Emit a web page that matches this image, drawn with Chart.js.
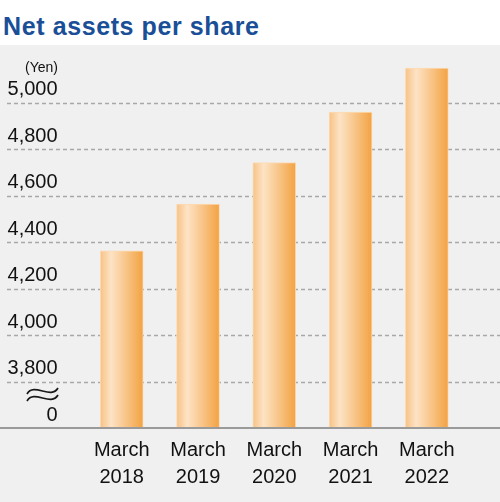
<!DOCTYPE html>
<html>
<head>
<meta charset="utf-8">
<script src="https://cdn.jsdelivr.net/npm/chart.js@4"></script>
<style>
  html, body { margin: 0; padding: 0; background: #fff; }
  #wrap { position: relative; width: 500px; height: 502px; overflow: hidden; }
  #title {
    position: absolute; left: 3px; top: 12px; line-height: 28px;
    font: bold 25px "Liberation Sans", Arial, sans-serif; letter-spacing: 0.6px;
    color: #1a4f97; white-space: nowrap;
  }
  #box { position: absolute; left: 0; top: 45px; width: 500px; height: 457px; background: #f0f0f0; }
</style>
</head>
<body>
<div id="wrap">
  <div id="title">Net assets per share</div>
  <div id="box"><canvas id="chart" width="500" height="457"></canvas></div>
</div>
<script>
// data
const periods = [["March", "2018"], ["March", "2019"], ["March", "2020"], ["March", "2021"], ["March", "2022"]];
const netAssets = [4362, 4563, 4742, 4959, 5148];
const yTicks = [3600, 3800, 4000, 4200, 4400, 4600, 4800, 5000];
const baseValue = 3600; // shown as 0 below the axis break
const unitLabel = "(Yen)";

const fontFamily = '"Liberation Sans", Arial, sans-serif';

// dashed grid, solid baseline, unit label and the break mark
const decorations = {
    id: 'decorations',
    beforeDatasetsDraw(chart) {
        const ctx = chart.ctx;
        const y = chart.scales.y;
        ctx.save();
        ctx.strokeStyle = '#a8a8a8';
        ctx.lineWidth = 1.5;
        ctx.setLineDash([4, 3]);
        yTicks.forEach(v => {
            if (v == baseValue) return;
            const py = Math.round(y.getPixelForValue(v)) + 0.5;
            ctx.beginPath();
            ctx.moveTo(7, py);
            ctx.lineTo(chart.width, py);
            ctx.stroke();
        });
        ctx.restore();
    },
    afterDatasetsDraw(chart) {
        const ctx = chart.ctx;
        const y = chart.scales.y;
        const base = y.getPixelForValue(baseValue);
        ctx.save();
        ctx.strokeStyle = '#9a9a9a';
        ctx.lineWidth = 2;
        ctx.beginPath();
        ctx.moveTo(0, base);
        ctx.lineTo(chart.width, base);
        ctx.stroke();

        // break mark
        ctx.strokeStyle = '#1a1a1a';
        ctx.lineWidth = 1.7;
        [base - 37, base - 30].forEach(cy => {
            ctx.beginPath();
            ctx.moveTo(27, cy + 3);
            ctx.bezierCurveTo(34, cy - 9, 51, cy + 9, 58, cy - 3);
            ctx.stroke();
        });

        ctx.fillStyle = '#111';
        ctx.font = '14px ' + fontFamily;
        ctx.textAlign = 'right';
        ctx.textBaseline = 'middle';
        ctx.fillText(unitLabel, 58, chart.chartArea.top + 12);
        ctx.restore();
    }
};

function barGradient(context) {
    const chart = context.chart;
    const x = chart.scales.x;
    const cx = x ? x.getPixelForValue(context.dataIndex) : NaN;
    if (!isFinite(cx)) return '#f5b468';
    const g = chart.ctx.createLinearGradient(cx - 21.5, 0, cx + 21.5, 0);
    g.addColorStop(0, '#f7c285');
    g.addColorStop(0.25, '#fde3c5');
    g.addColorStop(0.6, '#f8c588');
    g.addColorStop(1, '#f3a242');
    return g;
}

new Chart(document.getElementById('chart'), {
    type: 'bar',
    data: {
        labels: periods,
        datasets: [{
            label: 'Net assets per share',
            data: netAssets,
            backgroundColor: barGradient,
            borderColor: '#fcdab3',
            borderWidth: 1,
            borderSkipped: 'bottom',
            barThickness: 43
        }]
    },
    options: {
        responsive: false,
        animation: false,
        layout: { padding: { top: 11, right: 35, left: 0, bottom: 0 } },
        plugins: { legend: { display: false }, tooltip: { enabled: false } },
        scales: {
            x: {
                grid: { display: false },
                border: { display: false },
                ticks: { color: '#111', font: { family: fontFamily, size: 20, lineHeight: 1.35 }, padding: 1, maxRotation: 0 },
                afterFit(scale) { scale.height = 74; scale.paddingLeft = 0; scale.paddingRight = 0; }
            },
            y: {
                min: baseValue,
                max: 5200,
                grid: { display: false, drawTicks: false },
                border: { display: false },
                afterBuildTicks(scale) { scale.ticks = yTicks.map(v => ({ value: v })); },
                afterFit(scale) { scale.width = 83.6; scale.paddingTop = 0; scale.paddingBottom = 0; },
                ticks: {
                    color: '#111',
                    padding: 26,
                    labelOffset: -13,
                    font: { family: fontFamily, size: 20 },
                    callback: v => v == baseValue ? '0' : v.toLocaleString('en-US')
                }
            }
        }
    },
    plugins: [decorations]
});
</script>
</body>
</html>
